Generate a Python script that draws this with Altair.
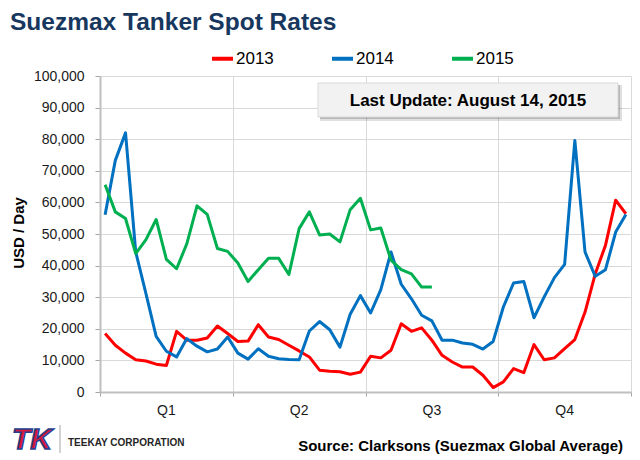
import altair as alt
import pandas as pd

# ---------------- data (USD/day, thousands) ----------------
years = ["2013", "2014", "2015"]
colors = ["#FF0000", "#0070C0", "#00B050"]
quarters = ["Q1", "Q2", "Q3", "Q4"]
quarter_ticks = [0, 13, 26, 39, 52]
y_ticks = [0, 10000, 20000, 30000, 40000, 50000, 60000, 70000, 80000, 90000, 100000]

rates_2013 = [18.5, 14.8, 12.3, 10.2, 9.8, 8.8, 8.4, 19.2, 16.4, 16.4, 17.1, 20.9, 18.5,
              16.0, 16.1, 21.3, 17.4, 16.6, 14.8, 13.0, 11.1, 6.9, 6.6, 6.4, 5.6, 6.3,
              11.3, 10.8, 13.2, 21.6, 19.2, 20.3, 16.4, 11.6, 9.5, 7.9, 7.9, 5.3, 1.4,
              3.2, 7.4, 6.1, 15.0, 10.2, 10.8, 13.7, 16.6, 25.3, 37.4, 46.4, 60.7, 56.4]
rates_2014 = [56.1, 73.3, 82.0, 44.3, 31.1, 17.6, 12.9, 11.1, 16.9, 14.5, 12.7, 13.6, 17.4,
              12.3, 10.4, 13.7, 11.3, 10.5, 10.3, 10.2, 19.3, 22.3, 19.7, 14.2, 24.6, 30.5,
              25.0, 32.4, 44.3, 34.1, 29.5, 24.3, 22.5, 16.4, 16.4, 15.5, 15.1, 13.6, 16.0,
              26.9, 34.5, 35.0, 23.5, 30.1, 36.2, 40.4, 79.6, 44.3, 36.6, 38.7, 50.6, 56.2]
rates_2015 = [65.6, 57.0, 54.9, 43.8, 48.2, 54.6, 42.0, 39.0, 46.9, 58.9, 56.2, 45.4, 44.5,
              40.8, 35.0, 38.7, 42.3, 42.3, 37.2, 51.7, 57.0, 49.7, 50.0, 47.5, 57.7, 61.3,
              51.3, 51.9, 41.7, 38.7, 37.4, 33.2, 33.2]

rows = []
for yr, vals in zip(years, [rates_2013, rates_2014, rates_2015]):
    for i, v in enumerate(vals):
        rows.append({"week": i + 0.5, "rate": v * 1000, "year": yr})
df = pd.DataFrame(rows)

q_df = pd.DataFrame({"q": quarters, "mid": [(k + 0.5) * 13 for k in range(len(quarters))]})

FONT = "Liberation Sans, Arial, sans-serif"
W, H = 531, 316

x_scale = alt.Scale(domain=[0, 52], nice=False, zero=False)

lines = alt.Chart(df).mark_line(strokeWidth=3, strokeJoin="round").encode(
    x=alt.X("week:Q", scale=x_scale,
            axis=alt.Axis(values=quarter_ticks, labels=False, title=None, grid=True,
                          tickSize=4, tickColor="#A6A6A6", domainColor="#BFBFBF",
                          domainWidth=2, gridColor="#D9D9D9")),
    y=alt.Y("rate:Q", scale=alt.Scale(domain=[0, 100000], nice=False),
            axis=alt.Axis(values=y_ticks, format=",.0f", title=None, grid=True,
                          tickSize=5, tickColor="#A6A6A6", domainColor="#BFBFBF",
                          domainWidth=2, gridColor="#D9D9D9", labelFont=FONT,
                          labelFontSize=14, labelColor="#1a1a1a", labelPadding=11)),
    color=alt.Color("year:N", scale=alt.Scale(domain=years, range=colors),
                    legend=alt.Legend(title=None, orient="none", legendX=110, legendY=-30,
                                      direction="horizontal", symbolType="stroke",
                                      symbolSize=441, symbolStrokeWidth=4,
                                      labelFontSize=17, labelFont=FONT, labelColor="#000000",
                                      labelOffset=1, columnPadding=50, padding=0)),
)

q_labels = alt.Chart(q_df).mark_text(font=FONT, fontSize=14, color="#1a1a1a",
                                     baseline="alphabetic", align="center").encode(
    x=alt.X("mid:Q", scale=x_scale), y=alt.value(H + 23), text="q:N")

one = pd.DataFrame({"a": [0]})

shadow1 = alt.Chart(one).mark_rect(fill="#000000", opacity=0.12).encode(
    x=alt.value(220), x2=alt.value(522), y=alt.value(9), y2=alt.value(45))
shadow2 = alt.Chart(one).mark_rect(fill="#000000", opacity=0.18).encode(
    x=alt.value(220), x2=alt.value(520), y=alt.value(9), y2=alt.value(43))
box = alt.Chart(one).mark_rect(fill="#F2F2F2", stroke="#D9D9D9", strokeWidth=1).encode(
    x=alt.value(218), x2=alt.value(518), y=alt.value(7), y2=alt.value(41))


def label(text, x, y, **kw):
    return alt.Chart(pd.DataFrame({"t": [text]})).mark_text(**kw).encode(
        x=alt.value(x), y=alt.value(y), text="t:N")


update_txt = label("Last Update: August 14, 2015", 368, 30, font=FONT, fontSize=17,
                   fontWeight="bold", color="#000000", align="center", baseline="alphabetic")
title_txt = label("Suezmax Tanker Spot Rates", -90, -46, font=FONT, fontSize=24.5,
                  fontWeight="bold", color="#17375E", align="left", baseline="alphabetic")
ytitle_txt = label("USD / Day", -81, 157, font=FONT, fontSize=15, fontWeight="bold",
                   color="#000000", align="center", baseline="middle", angle=270)
source_txt = label("Source: Clarksons (Suezmax Global Average)", 523, 375, font=FONT,
                   fontSize=15, fontWeight="bold", color="#000000", align="right",
                   baseline="alphabetic")
teekay_txt = label("TEEKAY CORPORATION", -32, 370, font=FONT, fontSize=10,
                   fontWeight="bold", color="#262626", align="left", baseline="alphabetic")
logo_txt = label("TK", -88, 373, font=FONT, fontSize=30, fontWeight="bold",
                 fontStyle="italic", color="#D7193F", stroke="#23408E", strokeWidth=1.5,
                 align="left", baseline="alphabetic")
divider = alt.Chart(one).mark_rule(color="#A6A6A6", strokeWidth=1).encode(
    x=alt.value(-40), y=alt.value(349), y2=alt.value(377))

chart = alt.layer(
    lines, q_labels, shadow1, shadow2, box, update_txt, title_txt, ytitle_txt,
    source_txt, teekay_txt, logo_txt, divider
).properties(
    width=W, height=H,
    autosize=alt.AutoSizeParams(type="none"),
    padding={"left": 92, "top": 68, "right": 1, "bottom": 64},
    background="white",
).configure_view(stroke=None)

chart.save("out.html", embed_options={"renderer": "svg", "actions": False})
